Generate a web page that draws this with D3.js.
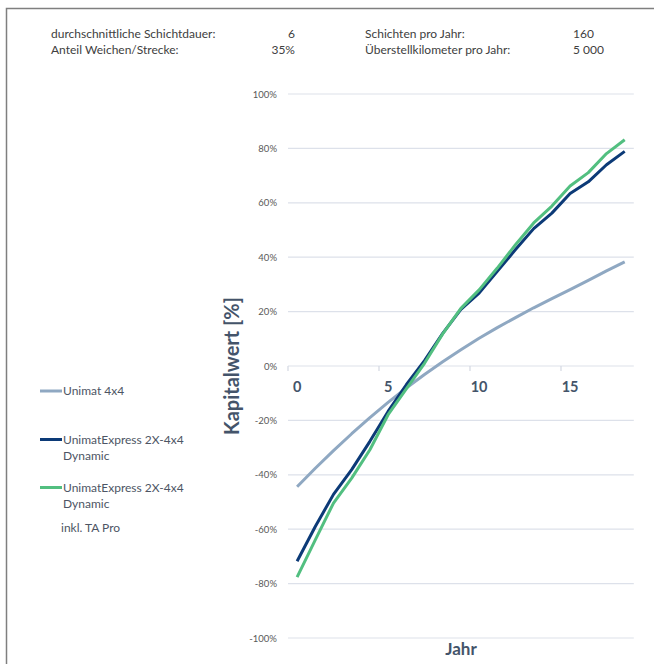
<!DOCTYPE html>
<html><head><meta charset="utf-8">
<script src="https://cdn.jsdelivr.net/npm/d3@7"></script>
<style>
html,body{margin:0;padding:0;background:#fff;}
svg text{font-family:Lato,"Open Sans",sans-serif;}
</style></head>
<body>
<svg id="c" width="654" height="664"></svg>
<script>
const years = d3.range(0, 19);
const unimat4x4 = [-44.4,-37.6,-31.1,-24.9,-19.0,-13.4,-8.1,-3.1,1.6,6.0,10.2,14.1,17.8,21.4,24.8,28.1,31.5,35.0,38.3];
const expressDyn = [-71.8,-59.0,-47.2,-38.1,-27.7,-16.7,-6.9,2.0,12.0,20.8,26.8,34.8,42.8,50.5,56.2,63.4,67.7,74.0,78.9];
const expressTA = [-77.6,-63.9,-50.4,-41.2,-30.8,-17.9,-8.4,1.0,11.8,21.2,28.0,36.0,44.6,52.6,58.8,66.2,71.1,78.1,83.2];
const yTicks = [-100,-80,-60,-40,-20,0,20,40,60,80,100];
const xTickLabels = [0,5,10,15];
const seriesNames = ["Unimat 4x4","UnimatExpress 2X-4x4 Dynamic","UnimatExpress 2X-4x4 Dynamic inkl. TA Pro"];
const headerRows = [
  ["durchschnittliche Schichtdauer:","6","Schichten pro Jahr:","160"],
  ["Anteil Weichen/Strecke:","35%","Überstellkilometer pro Jahr:","5 000"]
];

const colors = ["#8fa8c2","#0c3a77","#52bf80"];
const series = [unimat4x4, expressDyn, expressTA];

const svg = d3.select("#c");
// frame
svg.append("path").attr("d","M6.5,664 V8.5 H654").attr("fill","none").attr("stroke","#7f7f7f").attr("stroke-width",1.5);

// header
headerRows.forEach((r,i)=>{
  const y = 37.5 + i*16;
  const g = svg.append("g").attr("font-size","12px").attr("fill","#404040");
  g.append("text").attr("x",51).attr("y",y).text(r[0]);
  g.append("text").attr("x",295).attr("y",y).attr("text-anchor","end").text(r[1]);
  g.append("text").attr("x",365).attr("y",y).text(r[2]);
  g.append("text").attr("x",573).attr("y",y).text(r[3]);
});

const x = d3.scaleBand().domain(years).range([288, 633.8]).padding(0);
const xc = d => x(d) + x.bandwidth()/2;
const y = d3.scaleLinear().domain([-100,100]).range([638,94]);

// grid
const yAxis = d3.axisLeft(y).tickValues(yTicks).tickSize(0).tickPadding(11).tickFormat(d=>d+"%");
const gy = svg.append("g").attr("transform","translate(288,0)").call(yAxis);
gy.select(".domain").remove();
gy.selectAll("text").attr("font-size","9.5px").attr("fill","#595959").attr("font-family","Lato,sans-serif");
svg.append("g").selectAll("line").data(yTicks).join("line")
  .attr("x1",288).attr("x2",633.8).attr("y1",d=>y(d)).attr("y2",d=>y(d))
  .attr("stroke","#dde1ea").attr("stroke-width",1.2);

// x ticks at band boundaries
svg.append("g").selectAll("line").data(xTickLabels).join("line")
  .attr("x1",d=>x(d)).attr("x2",d=>x(d)).attr("y1",y(0)).attr("y2",y(0)+5)
  .attr("stroke","#d4d8e2").attr("stroke-width",1.2);
svg.append("g").selectAll("text").data(xTickLabels).join("text")
  .attr("x",d=>xc(d)).attr("y",y(0)+26).attr("text-anchor","middle")
  .attr("font-size","14.5px").attr("font-weight","bold").attr("fill","#44546a").text(d=>d);

// lines
const line = d3.line().x((d,i)=>xc(years[i])).y(d=>y(d));
series.forEach((s,i)=>{
  svg.append("path").datum(s).attr("d",line).attr("fill","none")
    .attr("stroke",colors[i]).attr("stroke-width",3).attr("stroke-linejoin","round");
});

// axis titles
svg.append("text").attr("transform","translate(239,366) rotate(-90)").attr("text-anchor","middle")
  .attr("font-size","20px").attr("font-weight","bold").attr("fill","#44546a").text("Kapitalwert [%]");
svg.append("text").attr("x",461).attr("y",655).attr("text-anchor","middle")
  .attr("font-size","17px").attr("font-weight","bold").attr("fill","#44546a").text("Jahr");

// legend
const legY = [391, 439.5, 487.5];
const legLines = [["Unimat 4x4"],["UnimatExpress 2X-4x4","Dynamic"],["UnimatExpress 2X-4x4","Dynamic"]];
legY.forEach((ly,i)=>{
  svg.append("line").attr("x1",40).attr("x2",62).attr("y1",ly).attr("y2",ly)
    .attr("stroke",colors[i]).attr("stroke-width",3);
  const t = svg.append("text").attr("x",63).attr("y",ly+4).attr("font-size","12px").attr("fill","#4d5564");
  legLines[i].forEach((l,j)=>t.append("tspan").attr("x",63).attr("dy",j?16.3:0).text(l));
});
svg.append("text").attr("x",61).attr("y",532).attr("font-size","12px").attr("fill","#4d5564").text("inkl. TA Pro");
</script>
</body></html>
